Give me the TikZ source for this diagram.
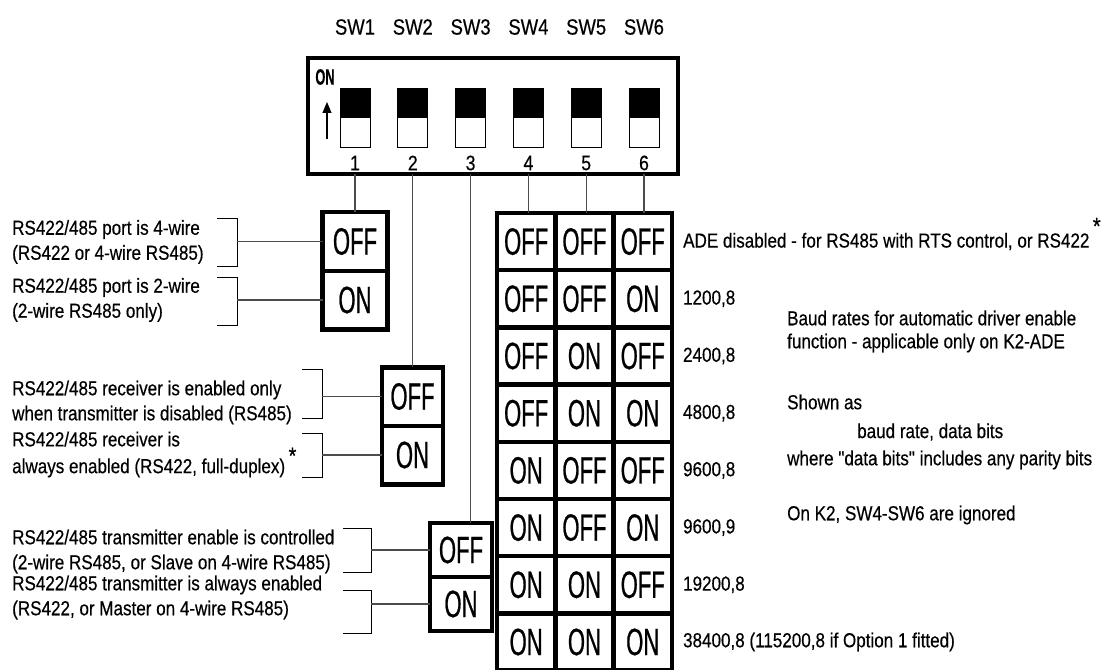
\documentclass[tikz,border=0pt]{standalone}
\usepackage{fontspec}
\newfontfamily\labfont[FakeStretch=0.84, FakeBold=0.4]{Liberation Sans}
\newfontfamily\cellfont[FakeStretch=0.58, FakeBold=0.6]{Liberation Sans}
\usetikzlibrary{positioning,arrows.meta}

\begin{document}
\begin{tikzpicture}[x=1bp, y=-1bp,
    lab/.style={font=\labfont\fontsize{20.3bp}{25bp}\selectfont, inner sep=0pt, align=left, anchor=west},
    cell/.style={draw, line width=4.5bp, minimum width=58.3bp, minimum height=57.2bp, inner sep=0pt, outer sep=0pt, font=\cellfont\fontsize{38bp}{38bp}\selectfont},
    swcell/.style={cell, minimum width=63bp, minimum height=58.5bp},
    lever/.style={draw, line width=1bp, minimum width=30bp, minimum height=29.5bp, inner sep=0pt, outer sep=0pt},
    wire/.style={draw=black!70, line width=1.2bp},
    brace/.style={line width=1bp}]

    \useasboundingbox (0,0) rectangle (1108,670);

    \node[draw, line width=4bp, minimum width=370bp, minimum height=116bp, inner sep=0pt, outer sep=0pt] (dip) at (493,116) {};
    \node[font=\cellfont\bfseries\fontsize{22bp}{22bp}\selectfont, inner sep=0pt] (ontag) at (325,77) {ON};
    \draw[line width=1.2bp, -{Triangle[length=11bp, width=9bp]}] (327,139) -- (327,102);

    \foreach \i in {1,...,6} {
      \node[lever, fill=black] (up\i) at ({355+57.8*(\i-1)},103) {};
      \node[lever, below=0pt of up\i] (dn\i) {};
      \node[lab, anchor=center, font=\labfont\fontsize{21bp}{21bp}\selectfont] (n\i) at ({355+57.8*(\i-1)},163) {\i};
      \node[lab, anchor=center, font=\labfont\fontsize{22bp}{22bp}\selectfont] (sw\i) at ({355+57.8*(\i-1)},27) {SW\i};
    }

    \node[swcell, minimum width=65bp] (s1off) at (355,241.5) {OFF};
    \node[swcell, minimum width=65bp, below=0pt of s1off] (s1on) {ON};
    \node[swcell, minimum width=61bp] (s2off) at (412.5,396.5) {OFF};
    \node[swcell, minimum width=61bp, below=0pt of s2off] (s2on) {ON};
    \node[swcell, minimum width=62bp, minimum height=54bp] (s3off) at (461,550) {OFF};
    \node[swcell, minimum width=62bp, minimum height=54bp, below=0pt of s3off] (s3on) {ON};

    \foreach \a/\b/\c [count=\r] in {OFF/OFF/OFF, OFF/OFF/ON, OFF/ON/OFF, OFF/ON/ON, ON/OFF/OFF, ON/OFF/ON, ON/ON/OFF, ON/ON/ON} {
      \node[cell] (ta\r) at (526.15,{213+57.2*(\r-0.5)}) {\a};
      \node[cell, right=0pt of ta\r] (tb\r) {\b};
      \node[cell, right=0pt of tb\r] (tc\r) {\c};
    }

    \foreach \i/\n in {1/s1off, 2/s2off, 3/s3off, 4/ta1, 5/tb1, 6/tc1}
      \draw[wire] (n\i |- dip.south) -- (n\i |- \n.north);

    \node[lab] (l1off) at (12,242) {\fontsize{20.3bp}{28bp}\selectfont RS422/485 port is 4-wire\\(RS422 or 4-wire RS485)};
    \node[lab] (l1on) at (12,300) {\fontsize{20.3bp}{26bp}\selectfont RS422/485 port is 2-wire\\(2-wire RS485 only)};
    \node[lab] (l2off) at (12,402.5) {RS422/485 receiver is enabled only\\when transmitter is disabled (RS485)};
    \node[lab] (l2on) at (12,454.5) {RS422/485 receiver is\\always enabled (RS422, full-duplex)\,\raisebox{0.45em}{\fontsize{24bp}{24bp}\selectfont *}};
    \node[lab] (l3off) at (12,551.5) {\fontsize{20.3bp}{23bp}\selectfont RS422/485 transmitter enable is controlled\\(2-wire RS485, or Slave on 4-wire RS485)};
    \node[lab] (l3on) at (12,597.5) {RS422/485 transmitter is always enabled\\(RS422, or Master on 4-wire RS485)};

    \foreach \x/\w/\t/\b/\n in {217/237/218/266/s1off, 217/237/277/325/s1on, 302/322/369/418/s2off, 302/322/433/477/s2on, 343/371/528/572/s3off, 343/371/590/633/s3on} {
      \draw[brace] (\x,\t) -| (\w,\b) -- (\x,\b);
      \coordinate (k\n) at (\w,0);
      \draw[wire] (k\n |- \n.west) -- (\n.west);
    }

    \node[lab] (rate1) at (683,234) {ADE disabled - for RS485 with RTS control, or RS422\,\raisebox{0.65em}{\fontsize{24bp}{24bp}\selectfont *}};
    \foreach \txt [count=\r from 2] in {{1200,8}, {2400,8}, {4800,8}, {9600,8}, {9600,9}, {19200,8}, {38400,8 (115200,8 if Option 1 fitted)}}
      \node[lab] (rate\r) at ([xshift=11bp]tc\r.east) {\txt};

    \node[lab] (note1) at (787,318) {Baud rates for automatic driver enable};
    \node[lab] (note2) at (787,343) {function - applicable only on K2-ADE};
    \node[lab] (note3) at (787,402) {Shown as};
    \node[lab] (note4) at (857,432) {baud rate, data bits};
    \node[lab] (note5) at (787,460) {where "data bits" includes any parity bits};
    \node[lab] (note6) at (787,515) {On K2, SW4-SW6 are ignored};

\end{tikzpicture}
\end{document}
